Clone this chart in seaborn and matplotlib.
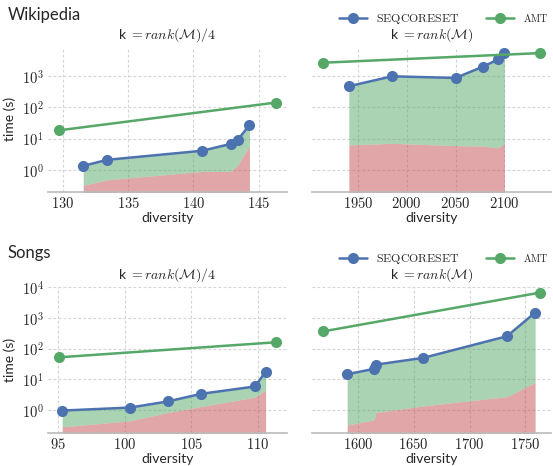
import matplotlib
matplotlib.use("Agg")
import matplotlib.pyplot as plt
import matplotlib.ticker as mticker
import numpy as np
import seaborn as sns

# ---------------- data ----------------
# Wikipedia, k = rank(M)/4
wq_div = [131.56, 133.4, 140.67, 142.85, 143.4, 144.28]
wq_seq = [1.34, 2.1, 4.1, 6.8, 9.3, 27.3]
wq_core = [0.32, 0.48, 0.89, 0.89, 1.44, 6.0]
wq_amt_div = [129.7, 146.3]
wq_amt = [18.5, 144]

# Wikipedia, k = rank(M)
wf_div = [1940.8, 1985, 2050, 2078, 2093.8, 2100]
wf_seq = [480, 1000, 885, 2040, 3490, 5700]
wf_core = [6.3, 7.1, 6.0, 5.8, 5.1, 7.0]
wf_amt_div = [1914.5, 2136.6]
wf_amt = [2730, 5550]

# Songs, k = rank(M)/4
sq_div = [95.3, 100.4, 103.24, 105.76, 109.8, 110.6]
sq_seq = [0.95, 1.19, 1.88, 3.35, 5.8, 17.6]
sq_core = [0.28, 0.44, 0.82, 1.29, 2.6, 4.5]
sq_amt_div = [95.05, 111.37]
sq_amt = [52, 161]

# Songs, k = rank(M)
sf_div = [1590.4, 1614.4, 1616.2, 1658.7, 1733.5, 1758.7]
sf_seq = [14.6, 21.8, 30, 50, 254, 1500]
sf_core = [0.32, 0.47, 0.82, 1.35, 2.7, 7.9]
sf_amt_div = [1568.9, 1763.2]
sf_amt = [365, 6750]

row_titles = ["Wikipedia", "Songs"]
col_titles = [r"k $= rank(\mathcal{M})/4$", r"k $= rank(\mathcal{M})$"]
series_names = [r"$\mathrm{SEQCORESET}$", r"$\mathrm{AMT}$"]

# ---------------- style ----------------
sns.set_theme(style="whitegrid")
plt.rcParams["font.family"] = ["Lato", "DejaVu Sans"]
plt.rcParams["mathtext.fontset"] = "cm"
plt.rcParams["grid.linestyle"] = (0, (2.5, 2))
plt.rcParams["grid.color"] = "#d4d4d4"
plt.rcParams["grid.linewidth"] = 0.8

blue = "#4C72B0"
green = "#55A868"
red = "#C44E52"

fig = plt.figure(figsize=(5.53, 4.66), dpi=100)
W, H = 553.0, 466.0

def box(x0, x1, ytop, ybot):
    return [x0 / W, 1 - ybot / H, (x1 - x0) / W, (ybot - ytop) / H]

axes = [
    [fig.add_axes(box(48, 286.7, 46.7, 192)), fig.add_axes(box(312.3, 551, 46.7, 192))],
    [fig.add_axes(box(48, 286.7, 286.7, 432.7)), fig.add_axes(box(312.3, 551, 286.7, 432.7))],
]

panels = [
    [(wq_div, wq_seq, wq_core, wq_amt_div, wq_amt), (wf_div, wf_seq, wf_core, wf_amt_div, wf_amt)],
    [(sq_div, sq_seq, sq_core, sq_amt_div, sq_amt), (sf_div, sf_seq, sf_core, sf_amt_div, sf_amt)],
]
ylims = [(0.195, 8900), (0.18, 10500)]

xfmt = mticker.FuncFormatter(lambda v, p: f"${v:g}$")
yfmt = mticker.FuncFormatter(lambda v, p: f"$10^{{{int(round(np.log10(v)))}}}$")

for r in range(2):
    for c in range(2):
        ax = axes[r][c]
        div, seq, core, adiv, amt = panels[r][c]
        ax.set_yscale("log")
        ax.fill_between(div, 1e-3, core, color=red, alpha=0.5, lw=0, zorder=1)
        ax.fill_between(div, core, seq, color=green, alpha=0.5, lw=0, zorder=1)
        sns.lineplot(x=div, y=seq, ax=ax, color=blue, marker="o", markersize=8,
                     markeredgecolor=blue, markeredgewidth=0, lw=1.8,
                     label=series_names[0], legend=False, zorder=3, sort=False)
        sns.lineplot(x=adiv, y=amt, ax=ax, color=green, marker="o", markersize=8,
                     markeredgecolor=green, markeredgewidth=0, lw=1.8,
                     label=series_names[1], legend=False, zorder=3, sort=False)
        ax.set_ylim(*ylims[r])
        ax.margins(x=0.05)
        ax.yaxis.set_major_locator(mticker.LogLocator(base=10, numticks=10))
        ax.yaxis.set_minor_locator(mticker.NullLocator())
        ax.yaxis.set_major_formatter(yfmt)
        ax.xaxis.set_major_formatter(xfmt)
        ax.tick_params(axis="both", labelsize=10.5, length=0, pad=3)
        ax.set_xlabel("diversity", fontsize=10, labelpad=0.5)
        ax.set_title(col_titles[c], fontsize=10, pad=6)
        for s in ["left", "right", "top"]:
            ax.spines[s].set_visible(False)
        ax.spines["bottom"].set_color("#bbbbbb")
        ax.spines["bottom"].set_linewidth(1.2)
        ax.grid(True, which="major", axis="both")
        ax.set_axisbelow(True)
        if c == 0:
            ax.set_ylabel("time (s)", fontsize=10, labelpad=4)
        else:
            ax.set_ylabel("")
            ax.tick_params(axis="y", labelleft=False)
            handles, labels = ax.get_legend_handles_labels()
            leg = ax.legend(handles, labels, loc="center right", bbox_to_anchor=(1.008, 1.19),
                            ncol=2, frameon=False, fontsize=8.6, handlelength=2.4,
                            columnspacing=2.2, handletextpad=0.7, borderaxespad=0)
            leg.get_texts()[1].set_fontsize(7.2)

fig.text(8 / W, 1 - 15 / H, row_titles[0], fontsize=12, ha="left", va="center")
fig.text(8 / W, 1 - 253 / H, row_titles[1], fontsize=12, ha="left", va="center")

fig.savefig("out.png", dpi=100)
